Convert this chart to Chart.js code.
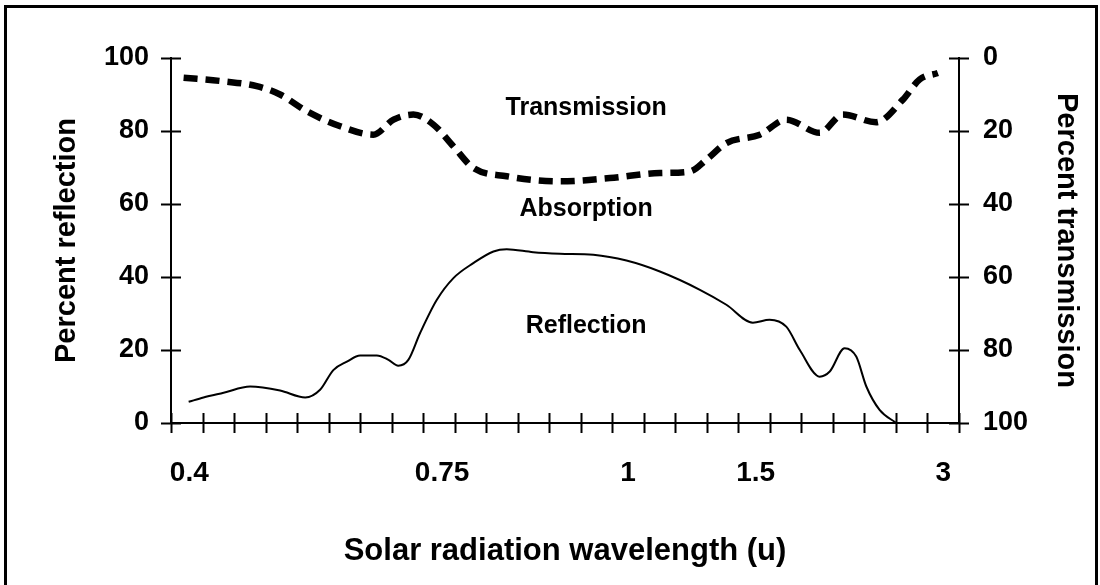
<!DOCTYPE html>
<html>
<head>
<meta charset="utf-8">
<title>Reflection and transmission</title>
<script src="https://cdn.jsdelivr.net/npm/chart.js@4.4.1/dist/chart.umd.min.js"></script>
<style>
    html, body { margin: 0; padding: 0; background: #fff; }
    canvas { display: block; }
</style>
</head>
<body>
<canvas id="chart" width="1100" height="585"></canvas>
<script>
// x runs in tick steps along the wavelength axis (26 tick marks, 0..25)
const xTickCount = 25;
const xLabels = ['0.4', '0.75', '1', '1.5', '3'];
const xLabelPos = [0.58, 8.6, 14.5, 18.55, 24.5];

// percent reflection (left axis)
const reflX = [0.56, 1.03, 1.67, 2.51, 3.46, 4.26, 4.73, 5.15, 5.58, 6.0, 6.53, 6.9, 7.21, 7.53, 7.9,
    8.43, 8.96, 9.59, 10.23, 10.65, 11.49, 12.34, 13.4, 14.45, 15.51, 16.78, 17.62, 18.46, 18.99,
    19.52, 19.95, 20.58, 20.9, 21.37, 21.74, 22.06, 22.48, 23.01];
const reflY = [5.8, 7.0, 8.3, 10.0, 8.9, 7.0, 9.1, 14.5, 16.8, 18.5, 18.5, 17.3, 15.7, 17.3, 24.6,
    33.7, 39.7, 43.8, 47.0, 47.6, 46.8, 46.4, 46.1, 44.5, 41.5, 36.5, 32.4, 27.5, 28.3,
    26.4, 20.0, 12.7, 14.1, 20.5, 18.2, 10.0, 3.6, 0];

// percent transmission (right axis, reversed)
const transX = [0.4, 1.67, 2.72, 3.46, 4.31, 5.37, 6.42, 7.06, 7.69, 8.32, 8.96, 9.59, 10.65, 12.34,
    13.92, 15.51, 16.46, 16.99, 17.62, 18.68, 19.52, 20.58, 21.32, 22.37, 23.22, 23.75, 24.33];
const transY = [5.4, 6.4, 7.7, 10.0, 14.6, 18.7, 21.0, 16.9, 15.5, 18.2, 24.2, 30.1, 32.4, 33.8,
    32.9, 31.5, 31.1, 27.8, 23.3, 21.0, 16.9, 20.5, 15.5, 17.6, 11.4, 5.9, 4.1];

const yTicks = [0, 20, 40, 60, 80, 100];

const zoneLabels = ['Transmission', 'Absorption', 'Reflection'];
const zoneX = [13.17, 13.17, 13.17];
const zoneY = [86.4, 58.7, 26.6];

const FONT = "'Liberation Sans', Arial, sans-serif";

const pageBackground = {
    id: 'pageBackground',
    beforeDraw(chart) {
        const ctx = chart.ctx;
        ctx.save();
        ctx.fillStyle = '#fff';
        ctx.fillRect(0, 0, chart.width, chart.height);
        ctx.restore();
    },
    afterDraw(chart) {
        // scanned frame round the figure
        const ctx = chart.ctx;
        ctx.save();
        ctx.strokeStyle = '#000';
        ctx.lineWidth = 3;
        ctx.beginPath();
        ctx.moveTo(5.5, chart.height);
        ctx.lineTo(5.5, 6.5);
        ctx.lineTo(1096.5, 6.5);
        ctx.lineTo(1096.5, chart.height);
        ctx.stroke();
        ctx.restore();
    }
};

// tick marks that cross the axis lines
const crossTicks = {
    id: 'crossTicks',
    afterDraw(chart) {
        const {ctx, chartArea, scales} = chart;
        const len = 10;
        ctx.save();
        ctx.strokeStyle = '#000';
        ctx.lineWidth = 2;
        ctx.beginPath();
        for (let i = 0; i <= xTickCount; i++) {
            const px = Math.round(scales.x.getPixelForValue(i)) + 0.5;
            ctx.moveTo(px, chartArea.bottom - len);
            ctx.lineTo(px, chartArea.bottom + len);
        }
        scales.y.ticks.forEach(t => {
            const py = Math.round(scales.y.getPixelForValue(t.value)) + 0.5;
            ctx.moveTo(chartArea.left - len, py);
            ctx.lineTo(chartArea.left + len, py);
        });
        scales.y2.ticks.forEach(t => {
            const py = Math.round(scales.y2.getPixelForValue(t.value)) + 0.5;
            ctx.moveTo(chartArea.right - len, py);
            ctx.lineTo(chartArea.right + len, py);
        });
        ctx.stroke();
        ctx.restore();
    }
};

const zoneText = {
    id: 'zoneText',
    afterDatasetsDraw(chart) {
        const {ctx, scales} = chart;
        ctx.save();
        ctx.fillStyle = '#000';
        ctx.font = 'bold 25px ' + FONT;
        ctx.textAlign = 'center';
        ctx.textBaseline = 'middle';
        zoneLabels.forEach((txt, i) => {
            ctx.fillText(txt, scales.x.getPixelForValue(zoneX[i]), scales.y.getPixelForValue(zoneY[i]));
        });
        ctx.restore();
    }
};

const chartConfig = {
    type: 'line',
    data: {
        datasets: [{
            label: 'Reflection',
            data: reflX.map((x, i) => ({x: x, y: reflY[i]})),
            yAxisID: 'y',
            borderColor: '#000',
            borderWidth: 2,
            pointRadius: 0,
            tension: 0.4,
            cubicInterpolationMode: 'monotone',
            fill: false
        }, {
            label: 'Transmission',
            data: transX.map((x, i) => ({x: x, y: transY[i]})),
            yAxisID: 'y2',
            borderColor: '#000',
            borderWidth: 6.5,
            borderDash: [14, 8],
            borderCapStyle: 'butt',
            pointRadius: 0,
            tension: 0.4,
            cubicInterpolationMode: 'monotone',
            fill: false
        }]
    },
    options: {
        responsive: false,
        devicePixelRatio: 1,
        animation: false,
        events: [],
        layout: {
            padding: {left: 40, right: 15, top: 58, bottom: 0}
        },
        plugins: {
            legend: {display: false},
            tooltip: {enabled: false}
        },
        scales: {
            x: {
                type: 'linear',
                position: 'bottom',
                min: 0,
                max: xTickCount,
                grid: {display: false, drawTicks: false},
                border: {display: true, color: '#000', width: 2},
                afterBuildTicks: axis => {
                    axis.ticks = xLabelPos.map(v => ({value: v}));
                },
                afterFit: axis => {
                    axis.height = 585 - 423;
                },
                ticks: {
                    autoSkip: false,
                    maxRotation: 0,
                    padding: 33,
                    color: '#000',
                    font: {family: FONT, size: 28, weight: 'bold'},
                    callback: (value, index) => xLabels[index]
                },
                title: {
                    display: true,
                    text: 'Solar radiation wavelength (u)',
                    color: '#000',
                    padding: {top: 0, bottom: 15},
                    font: {family: FONT, size: 31, weight: 'bold'}
                }
            },
            y: {
                type: 'linear',
                position: 'left',
                min: 0,
                max: 100,
                grid: {display: false, drawTicks: false},
                border: {display: true, color: '#000', width: 2},
                afterBuildTicks: axis => {
                    axis.ticks = yTicks.map(v => ({value: v}));
                },
                afterFit: axis => {
                    axis.width = 171 - 40;
                },
                ticks: {
                    padding: 22,
                    color: '#000',
                    font: {family: FONT, size: 27, weight: 'bold'}
                },
                title: {
                    display: true,
                    text: 'Percent reflection',
                    color: '#000',
                    padding: {top: 10, bottom: 0},
                    font: {family: FONT, size: 29, weight: 'bold'}
                }
            },
            y2: {
                type: 'linear',
                position: 'right',
                reverse: true,
                min: 0,
                max: 100,
                grid: {display: false, drawTicks: false},
                border: {display: true, color: '#000', width: 2},
                afterBuildTicks: axis => {
                    axis.ticks = yTicks.map(v => ({value: v}));
                },
                afterFit: axis => {
                    axis.width = 1085 - 959;
                },
                ticks: {
                    padding: 24,
                    color: '#000',
                    font: {family: FONT, size: 27, weight: 'bold'}
                },
                title: {
                    display: true,
                    text: 'Percent transmission',
                    color: '#000',
                    padding: {top: 2, bottom: 0},
                    font: {family: FONT, size: 29, weight: 'bold'}
                }
            }
        }
    },
    plugins: [pageBackground, crossTicks, zoneText]
};

const chart = new Chart(document.getElementById('chart'), chartConfig);
</script>
</body>
</html>
